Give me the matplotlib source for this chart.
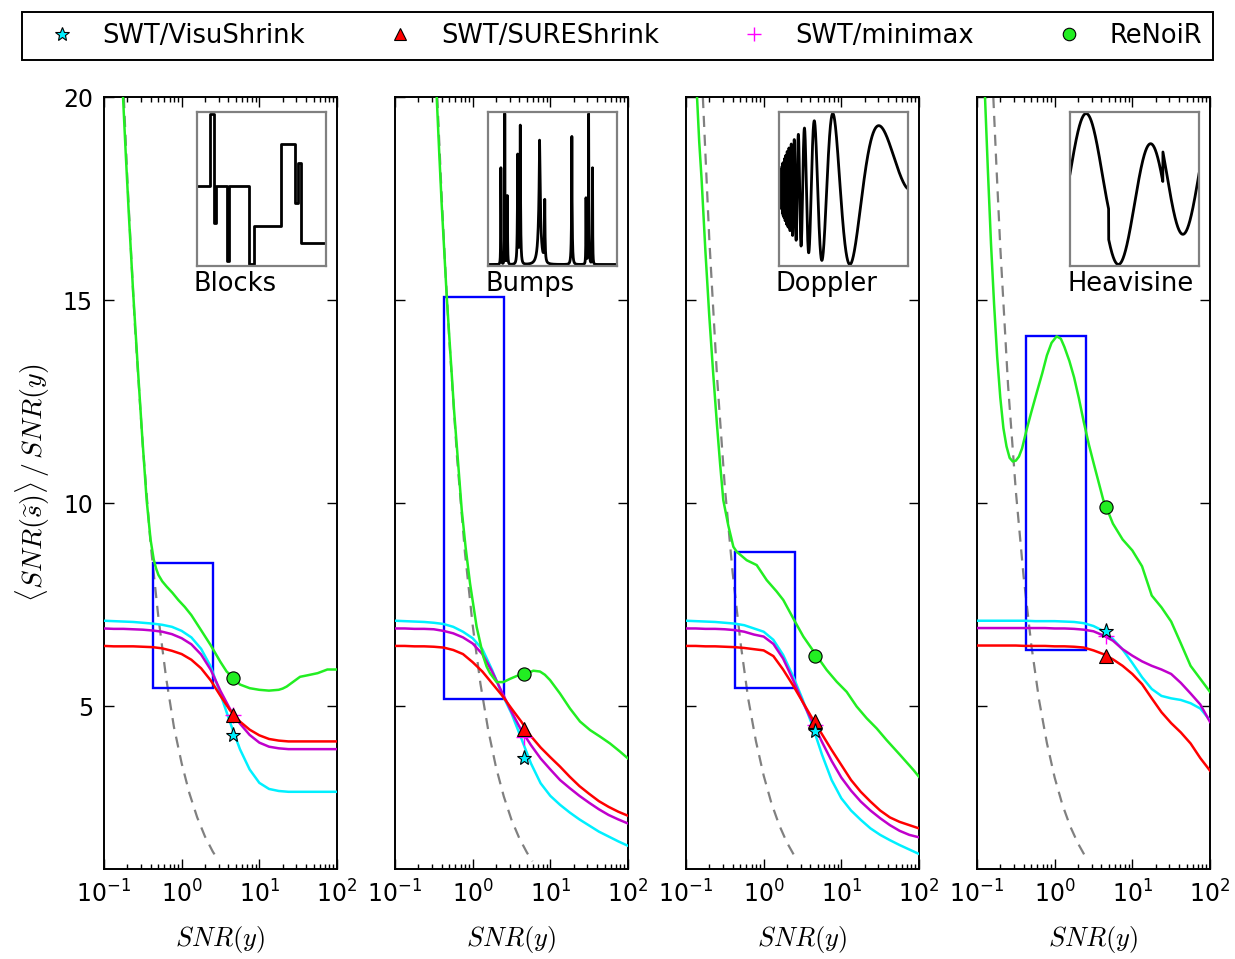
import numpy as np
import matplotlib
matplotlib.use("Agg")
import matplotlib.pyplot as plt
from matplotlib.lines import Line2D
from matplotlib.patches import Rectangle

plt.rcParams.update({
    "font.family": "DejaVu Sans",
    "mathtext.fontset": "cm",
    "axes.unicode_minus": False,
    "font.size": 16,
})

# ---------------------------------------------------------------- data
signals = ["Blocks", "Bumps", "Doppler", "Heavisine"]

# log10 SNR(y) sampling of the SWT curves
log_snr = [-1.0, -0.875, -0.75, -0.625, -0.5, -0.375, -0.25, -0.125, 0.0,
           0.125, 0.25, 0.375, 0.5, 0.625, 0.75, 0.875, 1.0, 1.125, 1.25,
           1.375, 1.5, 1.625, 1.75, 1.875, 2.0]

visu_blocks = [7.11, 7.10, 7.09, 7.08, 7.06, 7.04, 7.01, 6.96, 6.86, 6.70, 6.42,
               5.98, 5.30, 4.60, 3.95, 3.45, 3.12, 2.97, 2.92, 2.90, 2.90, 2.90,
               2.90, 2.90, 2.90]
sure_blocks = [6.49, 6.48, 6.48, 6.48, 6.47, 6.46, 6.43, 6.37, 6.29, 6.15, 5.94,
               5.64, 5.26, 4.90, 4.63, 4.43, 4.29, 4.20, 4.16, 4.14, 4.14, 4.14,
               4.14, 4.14, 4.14]
minimax_blocks = [6.92, 6.91, 6.91, 6.90, 6.89, 6.87, 6.84, 6.78, 6.68, 6.53,
                  6.28, 5.90, 5.38, 4.93, 4.58, 4.30, 4.11, 4.01, 3.97, 3.95,
                  3.95, 3.95, 3.95, 3.95, 3.95]

visu_bumps = [7.11, 7.10, 7.09, 7.08, 7.06, 7.03, 6.96, 6.84, 6.68, 6.41, 5.90,
              5.32, 4.83, 4.22, 3.60, 3.11, 2.80, 2.58, 2.39, 2.22, 2.07, 1.92,
              1.80, 1.68, 1.57]
sure_bumps = [6.49, 6.49, 6.48, 6.48, 6.47, 6.45, 6.39, 6.29, 6.09, 5.86, 5.57,
              5.28, 4.95, 4.63, 4.27, 3.99, 3.75, 3.52, 3.27, 3.04, 2.85, 2.67,
              2.53, 2.41, 2.31]
minimax_bumps = [6.92, 6.92, 6.91, 6.91, 6.90, 6.86, 6.80, 6.70, 6.55, 6.29, 5.86,
                 5.36, 4.87, 4.42, 4.05, 3.72, 3.45, 3.19, 2.99, 2.80, 2.63, 2.47,
                 2.33, 2.22, 2.12]

visu_doppler = [7.11, 7.10, 7.09, 7.08, 7.06, 7.04, 7.00, 6.92, 6.84, 6.64, 6.27,
                5.76, 5.18, 4.54, 3.82, 3.19, 2.74, 2.44, 2.21, 2.00, 1.84, 1.71,
                1.59, 1.48, 1.37]
sure_doppler = [6.49, 6.49, 6.48, 6.48, 6.47, 6.46, 6.44, 6.41, 6.38, 6.24, 5.91,
                5.53, 5.12, 4.71, 4.32, 3.93, 3.56, 3.19, 2.90, 2.66, 2.44, 2.27,
                2.16, 2.08, 2.00]
minimax_doppler = [6.92, 6.92, 6.91, 6.91, 6.90, 6.88, 6.84, 6.77, 6.72, 6.54,
                   6.18, 5.67, 5.12, 4.63, 4.13, 3.66, 3.25, 2.93, 2.66, 2.44,
                   2.25, 2.08, 1.94, 1.84, 1.78]

visu_heavisine = [7.11, 7.11, 7.11, 7.11, 7.11, 7.11, 7.10, 7.10, 7.10, 7.09, 7.08,
                  7.05, 6.98, 6.86, 6.66, 6.40, 6.07, 5.72, 5.43, 5.26, 5.20, 5.16,
                  5.08, 4.95, 4.66]
sure_heavisine = [6.50, 6.50, 6.50, 6.50, 6.50, 6.49, 6.49, 6.49, 6.48, 6.48, 6.47,
                  6.45, 6.38, 6.29, 6.16, 6.00, 5.80, 5.55, 5.20, 4.86, 4.59, 4.36,
                  4.09, 3.73, 3.42]
minimax_heavisine = [6.93, 6.93, 6.93, 6.93, 6.93, 6.93, 6.93, 6.93, 6.92, 6.92,
                     6.91, 6.89, 6.85, 6.75, 6.62, 6.41, 6.25, 6.11, 6.00, 5.91,
                     5.80, 5.58, 5.32, 5.05, 4.62]

# ReNoiR curves (own log10 SNR sampling)
renoir_blocks_x = [-0.755, -0.72, -0.68, -0.625, -0.57, -0.51, -0.451, -0.40,
                   -0.36, -0.33, -0.30, -0.25, -0.193, -0.12, -0.043, 0.04,
                   0.124, 0.249, 0.373, 0.498, 0.579, 0.674, 0.751, 0.876, 1.0,
                   1.124, 1.249, 1.30, 1.352, 1.438, 1.524, 1.627, 1.751, 1.876,
                   2.0]
renoir_blocks = [20.0, 18.6, 17.1, 15.2, 13.5, 11.7, 10.08, 9.1, 8.62, 8.40, 8.24,
                 8.08, 7.95, 7.80, 7.62, 7.45, 7.25, 6.88, 6.51, 6.10, 5.86, 5.69,
                 5.54, 5.45, 5.41, 5.39, 5.41, 5.44, 5.49, 5.61, 5.73, 5.77, 5.82,
                 5.91, 5.91]

renoir_bumps_x = [-0.463, -0.43, -0.40, -0.334, -0.24, -0.141, -0.09, -0.034,
                  0.051, 0.137, 0.18, 0.223, 0.309, 0.395, 0.481, 0.567, 0.67,
                  0.781, 0.867, 0.93, 0.996, 1.124, 1.253, 1.382, 1.511, 1.639,
                  1.768, 1.897, 2.0]
renoir_bumps = [20.0, 18.6, 17.4, 15.09, 12.3, 9.84, 8.90, 8.03, 6.96, 6.23, 5.98,
                5.82, 5.60, 5.60, 5.68, 5.75, 5.79, 5.88, 5.86, 5.78, 5.65, 5.32,
                4.95, 4.63, 4.42, 4.26, 4.09, 3.89, 3.72]

renoir_doppler_x = [-0.858, -0.83, -0.80, -0.75, -0.70, -0.65, -0.60, -0.56,
                    -0.52, -0.455, -0.39, -0.348, -0.219, -0.09, 0.039, 0.167,
                    0.253, 0.403, 0.511, 0.674, 0.811, 0.94, 1.069, 1.197, 1.326,
                    1.455, 1.584, 1.755, 1.927, 2.0]
renoir_doppler = [20.0, 18.9, 18.0, 16.2, 14.6, 13.2, 11.9, 10.95, 10.08, 9.45,
                  8.93, 8.81, 8.6, 8.48, 8.11, 7.83, 7.62, 7.09, 6.72, 6.27, 5.90,
                  5.61, 5.36, 5.0, 4.71, 4.46, 4.17, 3.81, 3.44, 3.27]

renoir_heavisine_x = [-0.897, -0.86, -0.82, -0.78, -0.74, -0.70, -0.66, -0.62,
                      -0.58, -0.54, -0.50, -0.46, -0.42, -0.36, -0.30, -0.23,
                      -0.16, -0.10, -0.04, 0.026, 0.08, 0.125, 0.19, 0.25, 0.31,
                      0.375, 0.44, 0.5, 0.625, 0.75, 0.875, 1.0, 1.125, 1.25,
                      1.375, 1.5, 1.625, 1.75, 1.875, 2.0]
renoir_heavisine = [20.0, 18.2, 16.4, 14.9, 13.6, 12.6, 11.85, 11.4, 11.12, 11.03,
                    11.05, 11.15, 11.35, 11.82, 12.25, 12.73, 13.2, 13.64, 13.95,
                    14.11, 14.05, 13.85, 13.5, 13.1, 12.6, 12.0, 11.45, 11.0,
                    10.09, 9.5, 9.11, 8.84, 8.45, 7.73, 7.44, 7.09, 6.55, 6.0,
                    5.68, 5.36]

# dashed reference curves (log10 SNR, value)
ref_blocks_x = [-0.745, -0.70, -0.65, -0.60, -0.50, -0.40, -0.30, -0.20, -0.10,
                0.0, 0.10, 0.20, 0.30, 0.40, 0.46]
ref_blocks = [20.0, 18.0, 16.1, 14.3, 11.4, 9.0, 7.2, 5.7, 4.5, 3.6, 2.86, 2.27,
              1.80, 1.43, 1.25]
ref_bumps_x = [-0.456, -0.40, -0.35, -0.30, -0.20, -0.10, 0.0, 0.10, 0.20, 0.30,
               0.40, 0.50, 0.60, 0.70, 0.77]
ref_bumps = [20.0, 17.6, 15.7, 14.0, 11.1, 8.8, 7.0, 5.56, 4.42, 3.51, 2.79, 2.21,
             1.76, 1.40, 1.19]
ref_doppler_x = [-0.783, -0.75, -0.70, -0.60, -0.50, -0.40, -0.30, -0.20, -0.10,
                 0.0, 0.10, 0.20, 0.30, 0.40, 0.43]
ref_doppler = [20.0, 18.6, 16.5, 13.1, 10.4, 8.3, 6.6, 5.2, 4.15, 3.3, 2.62, 2.08,
               1.65, 1.31, 1.22]
ref_heavisine_x = [-0.79, -0.75, -0.70, -0.60, -0.50, -0.40, -0.30, -0.20, -0.10,
                   0.0, 0.10, 0.20, 0.30, 0.40, 0.43]
ref_heavisine = [20.0, 18.3, 16.3, 12.9, 10.3, 8.2, 6.5, 5.15, 4.1, 3.25, 2.58,
                 2.05, 1.63, 1.29, 1.21]

# single-run results at SNR(y) = 4.6
marker_snr = 4.6
visu_point = [4.31, 3.72, 4.40, 6.86]
sure_point = [4.79, 4.44, 4.65, 6.24]
minimax_point = [4.80, 4.24, 4.55, 6.73]
renoir_point = [5.69, 5.79, 6.25, 9.91]

# highlighted SNR window and value range
window_snr = (0.43, 2.55)
window_low = [5.46, 5.18, 5.46, 6.40]
window_high = [8.54, 15.09, 8.79, 14.11]

# Blocks test signal: jump positions and levels
blocks_edges = [0.0, 0.10, 0.13, 0.15, 0.23, 0.25, 0.40, 0.44, 0.65, 0.76, 0.78,
                0.81, 1.0]
blocks_levels = [0.52, 0.99, 0.28, 0.52, 0.03, 0.52, 0.01, 0.26, 0.79, 0.41,
                 0.67, 0.15]
# Bumps test signal: positions, heights, widths
bumps_pos = [0.10, 0.13, 0.15, 0.23, 0.25, 0.40, 0.44, 0.65, 0.76, 0.78, 0.81]
bumps_height = [4, 5, 3, 4, 5, 4.2, 2.1, 4.3, 3.1, 5.1, 4.2]
bumps_width = [0.005, 0.005, 0.006, 0.01, 0.01, 0.03, 0.01, 0.01, 0.005, 0.008,
               0.005]
n_samples = 1024


def test_signal(name):
    t = np.linspace(0.0, 1.0, n_samples)
    if name == "Blocks":
        xs = np.array(blocks_edges)
        ys = np.array(blocks_levels + [blocks_levels[-1]])
        return xs, ys, "steps-post"
    if name == "Bumps":
        s = np.zeros_like(t)
        for p, h, w in zip(bumps_pos, bumps_height, bumps_width):
            s += h / (1.0 + np.abs((t - p) / w)) ** 4
        return t, s, "default"
    if name == "Doppler":
        s = np.sqrt(t * (1 - t)) * np.sin(2 * np.pi * 1.05 / (t + 0.05))
        return t, s, "default"
    s = 4 * np.sin(4 * np.pi * t) - np.sign(t - 0.3) - np.sign(0.72 - t)
    return t, s, "default"


visu = [visu_blocks, visu_bumps, visu_doppler, visu_heavisine]
sure = [sure_blocks, sure_bumps, sure_doppler, sure_heavisine]
minimax = [minimax_blocks, minimax_bumps, minimax_doppler, minimax_heavisine]
renoir_x = [renoir_blocks_x, renoir_bumps_x, renoir_doppler_x, renoir_heavisine_x]
renoir = [renoir_blocks, renoir_bumps, renoir_doppler, renoir_heavisine]
ref_x = [ref_blocks_x, ref_bumps_x, ref_doppler_x, ref_heavisine_x]
ref = [ref_blocks, ref_bumps, ref_doppler, ref_heavisine]

# ---------------------------------------------------------------- styles
C_VISU = "#00f0ff"
C_SURE = "#ff0000"
C_MINI = "#c000cc"
C_RENO = "#22ee22"
LW = 1.8

W, H = 1235, 959
fig = plt.figure(figsize=(W / 100, H / 100), dpi=100)
panel_left = [104, 395, 686, 977]
ax_bottom, ax_top, ax_w = 869, 97, 233

grid_snr = np.power(10.0, log_snr)

for i, name in enumerate(signals):
    L = panel_left[i]
    ax = fig.add_axes([L / W, (H - ax_bottom) / H, ax_w / W,
                       (ax_bottom - ax_top) / H])
    ax.set_xscale("log")
    ax.set_xlim(0.1, 100)
    ax.set_ylim(1, 20)

    ax.plot(np.power(10.0, ref_x[i]), ref[i], color="0.5", lw=1.6,
            dashes=(5, 3.5), zorder=2)
    ax.add_patch(Rectangle((window_snr[0], window_low[i]),
                           window_snr[1] - window_snr[0],
                           window_high[i] - window_low[i],
                           fill=False, edgecolor="blue", lw=1.7, zorder=3))
    ax.plot(grid_snr, visu[i], color=C_VISU, lw=LW, zorder=4)
    ax.plot(grid_snr, minimax[i], color=C_MINI, lw=LW, zorder=4)
    ax.plot(grid_snr, sure[i], color=C_SURE, lw=LW, zorder=4)
    ax.plot(np.power(10.0, renoir_x[i]), renoir[i], color=C_RENO, lw=LW,
            zorder=5)

    ax.plot([marker_snr], [renoir_point[i]], "o", ms=9.5, mfc=C_RENO, mec="k",
            mew=0.8, zorder=6)
    ax.plot([marker_snr], [minimax_point[i]], "+", ms=11, color="#ff00ff",
            mew=1.0, zorder=6)
    ax.plot([marker_snr], [sure_point[i]], "^", ms=9.5, mfc=C_SURE, mec="k",
            mew=0.8, zorder=7)
    ax.plot([marker_snr], [visu_point[i]], "*", ms=11, mfc=C_VISU, mec="k",
            mew=0.8, zorder=7)

    ax.set_yticks([5, 10, 15, 20])
    ax.tick_params(which="both", direction="in", top=True, right=True,
                   labelsize=17, width=1)
    ax.tick_params(which="major", length=7, pad=8)
    ax.tick_params(which="minor", length=3.5)
    for sp in ax.spines.values():
        sp.set_linewidth(1.4)
    if i > 0:
        ax.set_yticklabels([])
    else:
        ax.set_ylabel(r"$\langle SNR(\widetilde{s})\rangle\,/\,SNR(y)$",
                      fontsize=20, labelpad=8)
    ax.set_xlabel(r"$SNR(y)$", fontsize=19, labelpad=12)

    # inset with the test signal
    ins = fig.add_axes([(L + 93) / W, (H - 266) / H, 129 / W, 154 / H])
    xs, ys, ds = test_signal(name)
    ins.plot(xs, ys, color="k", lw=2.0, drawstyle=ds)
    ins.set_xlim(0, 1)
    lo, hi = np.min(ys), np.max(ys)
    pad = 0.01 * (hi - lo)
    ins.set_ylim(lo - pad, hi + pad)
    ins.set_xticks([])
    ins.set_yticks([])
    for sp in ins.spines.values():
        sp.set_edgecolor("0.5")
        sp.set_linewidth(1.6)
    fig.text((L + 90) / W, (H - 284) / H, name, ha="left", va="center",
             fontsize=18.5)

handles = [
    Line2D([], [], ls="none", marker="*", ms=10, mfc=C_VISU, mec="k", mew=0.8),
    Line2D([], [], ls="none", marker="^", ms=9, mfc=C_SURE, mec="k", mew=0.8),
    Line2D([], [], ls="none", marker="+", ms=10, color="#ff00ff", mew=1.0),
    Line2D([], [], ls="none", marker="o", ms=9, mfc=C_RENO, mec="k", mew=0.8),
]
labels = ["SWT/VisuShrink", "SWT/SUREShrink", "SWT/minimax", "ReNoiR"]
leg = fig.legend(handles, labels, loc="upper left", mode="expand", ncol=4,
                 bbox_to_anchor=(22 / W, (H - 13) / H, 1191 / W, 0.001),
                 borderaxespad=0, fontsize=18.5, handlelength=2.25,
                 handletextpad=0.45, borderpad=0.42, numpoints=1,
                 fancybox=False, framealpha=1, edgecolor="k")
leg.get_frame().set_linewidth(1.4)

fig.savefig("out.png", dpi=100)
